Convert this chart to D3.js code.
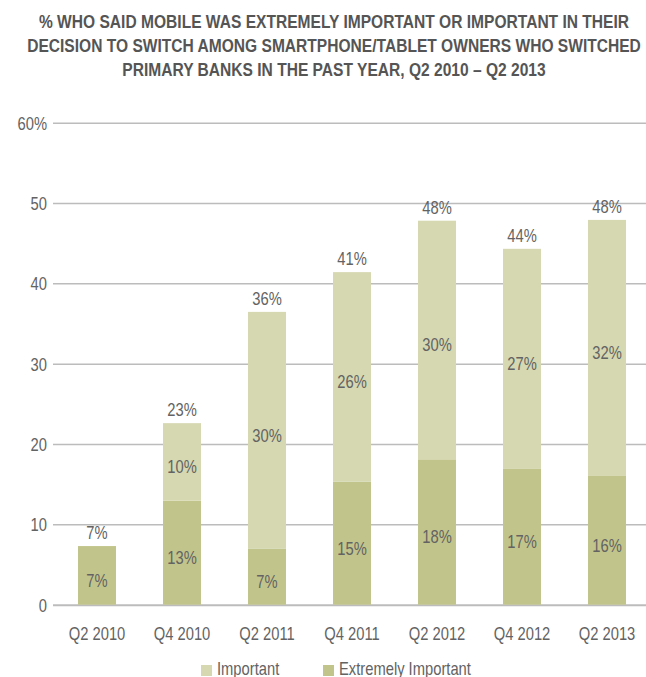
<!DOCTYPE html>
<html>
<head>
<meta charset="utf-8">
<script src="https://cdn.jsdelivr.net/npm/d3@7"></script>
<style>
  html, body { margin: 0; padding: 0; background: #fff; }
  svg { display: block; }
  text { font-family: "Liberation Sans", Arial, sans-serif; }
</style>
</head>
<body>
<svg id="chart" width="646" height="677"></svg>
<script>
// Survey periods
const quarters = ["Q2 2010", "Q4 2010", "Q2 2011", "Q4 2011", "Q2 2012", "Q4 2012", "Q2 2013"];
// Share of switchers (%) rating mobile "Extremely Important"
const extremelyImportant = [7.3, 12.95, 6.95, 15.3, 18.1, 16.9, 16.1];
// Share of switchers (%) rating mobile "Important"
const important = [0, 9.65, 29.5, 26.1, 29.7, 27.4, 31.8];
// Value axis ticks
const yTicks = [0, 10, 20, 30, 40, 50, 60];
const seriesNames = ["Important", "Extremely Important"];

const titleLines = [
  "% WHO SAID MOBILE WAS EXTREMELY IMPORTANT OR IMPORTANT IN THEIR",
  "DECISION TO SWITCH AMONG SMARTPHONE/TABLET OWNERS WHO SWITCHED",
  "PRIMARY BANKS IN THE PAST YEAR, Q2 2010 \u2013 Q2 2013"
];

const colors = { "Important": "#d5d8b1", "Extremely Important": "#c2c58b" };
const textColor = "#636363";
// horizontal squeeze giving a condensed face
const SX = 0.82;
const narrow = (sel, fx, fy) =>
  sel.attr("transform", (d, i) => `translate(${fx(d, i)},${fy(d, i)}) scale(${SX},1)`);

const svg = d3.select("#chart");

// Title
svg.append("g")
  .selectAll("text")
  .data(titleLines)
  .join("text")
  .call(narrow, () => 334, (d, i) => 28 + i * 24)
  .attr("text-anchor", "middle")
  .attr("font-weight", "bold")
  .attr("font-size", 19)
  .attr("fill", "#555555")
  .text(d => d);

// Scales
const x = d3.scaleBand()
  .domain(quarters)
  .range([54.5, 649.5])
  .paddingInner(0.553)
  .paddingOuter(0.2765);

const y = d3.scaleLinear().domain([0, 60]).range([604.7, 122.7]);

// Gridlines and tick labels
const yAxis = d3.axisLeft(y)
  .tickValues(yTicks)
  .tickSize(-(646 - 53))
  .tickPadding(6)
  .tickFormat(d => d === 60 ? "60%" : d);

const gy = svg.append("g")
  .attr("transform", "translate(53,0)")
  .call(yAxis);
gy.select(".domain").remove();
gy.selectAll(".tick line")
  .attr("stroke", "#bcbcbc")
  .attr("stroke-width", d => d === 0 ? 2 : 1.5);
gy.selectAll(".tick text")
  .attr("x", null)
  .attr("transform", `translate(-6,0) scale(${SX},1)`)
  .attr("font-size", 18)
  .attr("fill", textColor)
  .attr("font-family", null)
  .attr("dy", "0.36em");

// Stacked data
const rows = quarters.map((q, i) => ({
  quarter: q,
  "Extremely Important": extremelyImportant[i],
  "Important": important[i]
}));
const stack = d3.stack().keys(["Extremely Important", "Important"]);
const layers = stack(rows);

const fmt = v => d3.format(".0f")(v) + "%";
const cx = q => x(q) + x.bandwidth() / 2;

const bars = svg.append("g");
layers.forEach(layer => {
  bars.append("g")
    .selectAll("rect")
    .data(layer.filter(d => d[1] - d[0] > 0))
    .join("rect")
    .attr("x", d => x(d.data.quarter))
    .attr("width", x.bandwidth())
    .attr("y", d => y(d[1]))
    .attr("height", d => y(d[0]) - y(d[1]))
    .attr("fill", colors[layer.key]);
});

// Segment labels
const labels = svg.append("g")
  .attr("font-size", 18)
  .attr("fill", textColor)
  .attr("text-anchor", "middle");

layers.forEach(layer => {
  labels.append("g")
    .selectAll("text")
    .data(layer.filter(d => d[1] - d[0] > 0))
    .join("text")
    .call(narrow, d => cx(d.data.quarter), d => (y(d[0]) + y(d[1])) / 2 + 5)
    .attr("dy", "0.36em")
    .text(d => fmt(d[1] - d[0]));
});

// Totals above each stack
labels.append("g")
  .selectAll("text")
  .data(rows)
  .join("text")
  .call(narrow, d => cx(d.quarter), d => y(d["Extremely Important"] + d["Important"]) - 7)
  .text(d => fmt(d["Extremely Important"] + d["Important"]));

// Category axis labels
svg.append("g")
  .selectAll("text")
  .data(quarters)
  .join("text")
  .call(narrow, d => cx(d), () => 640)
  .attr("text-anchor", "middle")
  .attr("font-size", 18)
  .attr("fill", textColor)
  .text(d => d);

// Legend
const legendX = [201, 323];
const legend = svg.append("g")
  .selectAll("g")
  .data(seriesNames)
  .join("g")
  .attr("transform", (d, i) => `translate(${legendX[i]},0)`);
legend.append("rect")
  .attr("x", 0)
  .attr("y", 665)
  .attr("width", 11)
  .attr("height", 11)
  .attr("fill", d => colors[d]);
legend.append("text")
  .call(narrow, () => 16, () => 675)
  .attr("font-size", 18)
  .attr("fill", textColor)
  .text(d => d);
</script>
</body>
</html>
